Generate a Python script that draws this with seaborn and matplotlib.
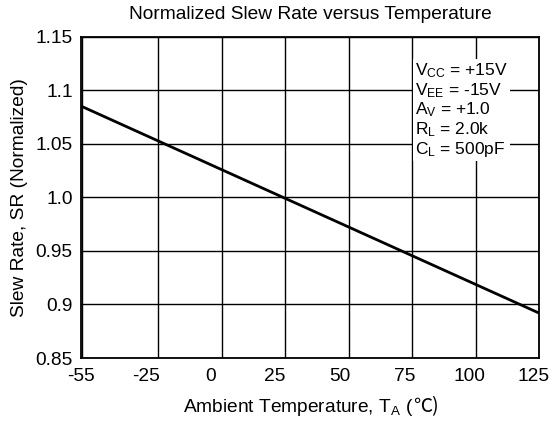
import matplotlib
matplotlib.use("Agg")
import matplotlib.pyplot as plt
import seaborn as sns
import pandas as pd
import numpy as np

temperature = [-55, 125]
slew_rate = [1.085, 0.892]
x_ticks = [-55, -25, 0, 25, 50, 75, 100, 125]
x_tick_labels = ["-55", "-25", "0", "25", "50", "75", "100", "125"]
y_ticks = [0.85, 0.9, 0.95, 1.0, 1.05, 1.1, 1.15]
y_tick_labels = ["0.85", "0.9", "0.95", "1.0", "1.05", "1.1", "1.15"]
conditions = [r"V$_{CC}$ = +15V", r"V$_{EE}$ = -15V", r"A$_{V}$ = +1.0",
              r"R$_{L}$ = 2.0k", r"C$_{L}$ = 500pF"]

sns.set_theme(style="white")
plt.rcParams['font.family'] = ['Liberation Sans', 'DejaVu Sans']
plt.rcParams['mathtext.fontset'] = 'custom'
plt.rcParams['mathtext.rm'] = 'Liberation Sans'
plt.rcParams['mathtext.it'] = 'Liberation Sans'
plt.rcParams['mathtext.default'] = 'regular'

FS = 13.8
df = pd.DataFrame({"T": temperature, "SR": slew_rate})

fig = plt.figure(figsize=(5.53, 4.29), dpi=100)
ax = fig.add_axes([0.1465, 0.1655, 0.8282, 0.7483])
sns.lineplot(data=df, x="T", y="SR", ax=ax, color="black", linewidth=2.0, zorder=3)

ax.set_xlim(-55, 125)
ax.set_ylim(0.85, 1.15)
# grid lines at the true values, labels spread evenly (as in the reference)
ax.xaxis.remove_overlapping_locs = False
ax.set_xticks(x_ticks)
ax.set_xticklabels([""] * len(x_ticks))
ax.set_xticks(np.linspace(-55.4, 123.0, len(x_ticks)), minor=True)
ax.set_xticklabels(x_tick_labels, minor=True)
ax.set_yticks(y_ticks)
ax.set_yticklabels(y_tick_labels)
ax.tick_params(axis="both", which="both", length=0, labelsize=FS, colors="black")
ax.tick_params(axis="x", which="both", pad=7)
ax.tick_params(axis="y", which="both", pad=6)
ax.grid(True, which="major", color="black", linewidth=1.0)
ax.grid(False, which="minor")
for s in ax.spines.values():
    s.set_color("black")
    s.set_linewidth(1.3)

ax.set_xlabel("")
ax.set_ylabel("Slew Rate, SR (Normalized)", fontsize=FS, color="black", labelpad=5)
ax.set_title("Normalized Slew Rate versus Temperature", fontsize=FS, color="black", pad=13)

# x axis label with degree-Celsius sign (needs a CJK font)
t1 = fig.text(0, 0, r"Ambient Temperature, T$_{A}$ (", fontsize=FS, color="black",
              ha="left", va="baseline")
t2 = fig.text(0, 0, "℃)", fontsize=FS, color="black", ha="left", va="baseline",
              family=['Noto Sans CJK SC', 'DejaVu Sans'])
fig.canvas.draw()
r = fig.canvas.get_renderer()
w1 = t1.get_window_extent(r).width
w2 = t2.get_window_extent(r).width
cx = 311.0
y_base = 1 - 412 / 429
x0 = cx - (w1 + w2) / 2
t1.set_position((x0 / 553, y_base))
t2.set_position(((x0 + w1) / 553, y_base))

txt = ax.text(-55 + (415 - 81) / 458 * 180, 1.15 - (61 - 37) / 1070, "\n".join(conditions),
              fontsize=12.5, va="top", ha="left", linespacing=1.08, zorder=4,
              color="black",
              bbox=dict(facecolor="white", edgecolor="none", pad=1.5))

fig.savefig("out.png", dpi=100)
